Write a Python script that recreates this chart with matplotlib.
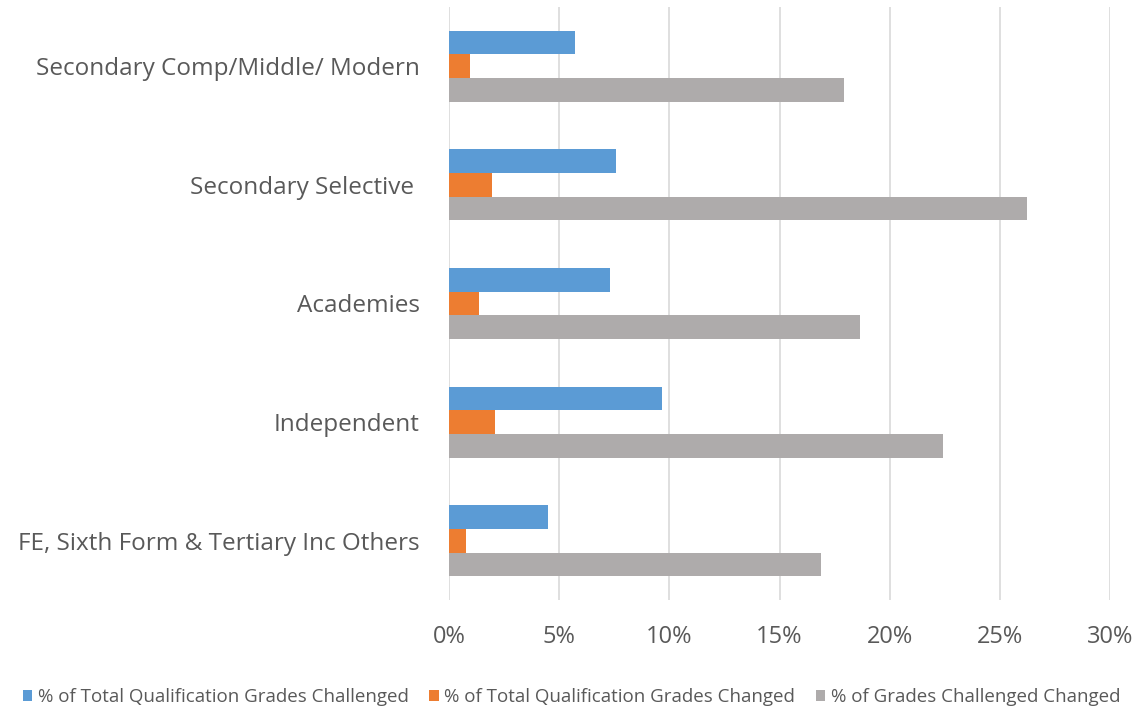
import matplotlib
matplotlib.use("Agg")
import matplotlib.pyplot as plt
import numpy as np
from matplotlib.ticker import FuncFormatter, MultipleLocator

categories = ["Secondary Comp/Middle/ Modern", "Secondary Selective ", "Academies",
              "Independent", "FE, Sixth Form & Tertiary Inc Others"]
series_names = ["% of Total Qualification Grades Challenged",
                "% of Total Qualification Grades Changed",
                "% of Grades Challenged Changed"]
challenged = [5.7, 7.6, 7.3, 9.65, 4.5]
changed = [0.95, 1.95, 1.35, 2.1, 0.75]
challenged_changed = [17.95, 26.25, 18.65, 22.4, 16.9]
colors = ["#5B9BD5", "#ED7D31", "#AEABAB"]

plt.rcParams['font.family'] = ['Open Sans', 'DejaVu Sans']
fig = plt.figure(figsize=(11.43, 7.13), dpi=100)
ax = fig.add_axes([449/1143, 1 - 600/713, (1110-449)/1143, 593/713])

y = np.arange(len(categories))
h = 0.2
for i, (vals, name, c) in enumerate(zip([challenged, changed, challenged_changed], series_names, colors)):
    ax.barh(y + (i - 1) * h, vals, height=h, color=c, label=name, zorder=3)

ax.set_xlim(0, 30)
ax.set_ylim(len(categories) - 0.5, -0.5)
ax.set_yticks(y)
ax.set_yticklabels(categories)
ax.xaxis.set_major_locator(MultipleLocator(5))
ax.xaxis.set_major_formatter(FuncFormatter(lambda v, p: f"{v:.0f}%"))
ax.grid(axis='x', color='#D9D9D9', linewidth=1.2, zorder=0)
for s in ax.spines.values():
    s.set_visible(False)
ax.tick_params(axis='y', length=0, labelsize=17.5, labelcolor='#595959', pad=21)
ax.tick_params(axis='x', length=0, labelsize=17, labelcolor='#595959', pad=18)

fig.legend(loc='lower center', bbox_to_anchor=(0.5, -0.014), ncol=3, frameon=False,
           fontsize=13.5, labelcolor='#595959', handlelength=0.5, handleheight=0.5,
           handletextpad=0.3, columnspacing=1.1)
fig.savefig("out.png", dpi=100)
